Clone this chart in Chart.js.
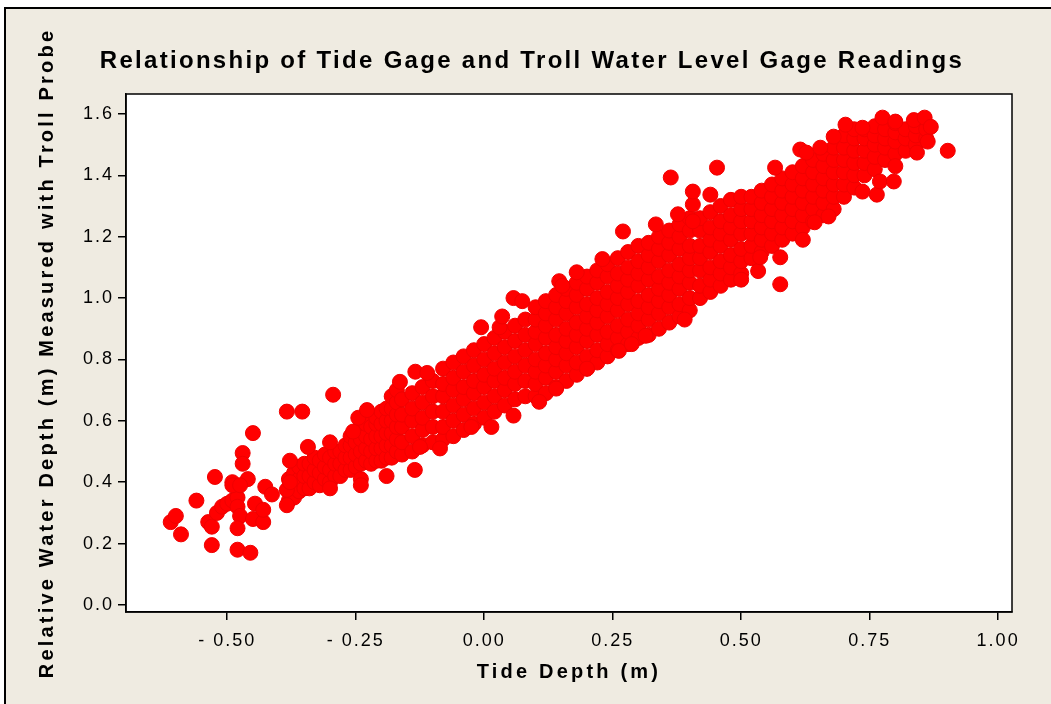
<!DOCTYPE html>
<html>
<head>
<meta charset="utf-8">
<script src="https://cdn.jsdelivr.net/npm/chart.js@4.4.1/dist/chart.umd.min.js"></script>
<style>
  html, body { margin: 0; padding: 0; background: #ffffff; }
  #wrap { width: 1051px; height: 704px; }
</style>
</head>
<body>
<div id="wrap"><canvas id="tideChart" width="1051" height="704"></canvas></div>
<script>
const CHART_TITLE = 'Relationship of Tide Gage and Troll Water Level Gage Readings';
const X_TITLE = 'Tide Depth (m)';
const Y_TITLE = 'Relative Water Depth (m) Measured with Troll Probe';

const xTickValues = [-0.5, -0.25, 0, 0.25, 0.5, 0.75, 1.0];
const xTickLabels = ['- 0.50', '- 0.25', '0.00', '0.25', '0.50', '0.75', '1.00'];
const yTickValues = [0, 0.2, 0.4, 0.6, 0.8, 1.0, 1.2, 1.4, 1.6];
const yTickLabels = ['0.0', '0.2', '0.4', '0.6', '0.8', '1.0', '1.2', '1.4', '1.6'];

// dense part of the cloud, read column by column: [tide depth, [troll depths]]
const bandColumns = [
    [-0.16, [0.49, 0.53, 0.58, 0.62, 0.67]],
    [-0.14, [0.50, 0.55, 0.60, 0.64, 0.69]],
    [-0.12, [0.52, 0.57, 0.61, 0.66, 0.71]],
    [-0.10, [0.53, 0.58, 0.63, 0.68, 0.73]],
    [-0.08, [0.54, 0.58, 0.63, 0.68, 0.72, 0.77]],
    [-0.06, [0.55, 0.60, 0.65, 0.70, 0.74, 0.79]],
    [-0.04, [0.57, 0.62, 0.67, 0.71, 0.76, 0.81]],
    [-0.02, [0.59, 0.64, 0.69, 0.73, 0.78, 0.83]],
    [0.00, [0.61, 0.66, 0.71, 0.75, 0.80, 0.85]],
    [0.02, [0.63, 0.68, 0.73, 0.77, 0.82, 0.87]],
    [0.04, [0.65, 0.70, 0.74, 0.79, 0.84, 0.89]],
    [0.06, [0.67, 0.72, 0.76, 0.81, 0.86, 0.91]],
    [0.08, [0.68, 0.73, 0.78, 0.83, 0.88, 0.93]],
    [0.10, [0.68, 0.72, 0.76, 0.80, 0.85, 0.89, 0.93, 0.97]],
    [0.12, [0.69, 0.74, 0.78, 0.82, 0.87, 0.91, 0.95, 0.99]],
    [0.14, [0.71, 0.76, 0.80, 0.84, 0.88, 0.93, 0.97, 1.01]],
    [0.16, [0.73, 0.78, 0.82, 0.86, 0.90, 0.95, 0.99, 1.03]],
    [0.18, [0.75, 0.79, 0.84, 0.88, 0.92, 0.97, 1.01, 1.05]],
    [0.20, [0.77, 0.81, 0.86, 0.90, 0.94, 0.98, 1.03, 1.07]],
    [0.22, [0.79, 0.83, 0.88, 0.92, 0.96, 1.00, 1.05, 1.09]],
    [0.24, [0.81, 0.85, 0.89, 0.94, 0.98, 1.02, 1.07, 1.11]],
    [0.26, [0.83, 0.87, 0.91, 0.96, 1.00, 1.04, 1.08, 1.13]],
    [0.28, [0.85, 0.89, 0.93, 0.98, 1.02, 1.06, 1.10, 1.15]],
    [0.30, [0.87, 0.91, 0.95, 0.99, 1.04, 1.08, 1.12, 1.17]],
    [0.32, [0.88, 0.93, 0.97, 1.01, 1.06, 1.10, 1.14, 1.18]],
    [0.34, [0.90, 0.95, 0.99, 1.03, 1.07, 1.12, 1.16, 1.20]],
    [0.36, [0.92, 0.97, 1.01, 1.05, 1.09, 1.14, 1.18, 1.22]],
    [0.38, [0.94, 0.98, 1.03, 1.07, 1.11, 1.16, 1.20, 1.24]],
    [0.40, [0.96, 1.00, 1.05, 1.09, 1.13, 1.17, 1.22, 1.26]],
    [0.42, [1.00, 1.04, 1.09, 1.13, 1.17, 1.22, 1.26]],
    [0.44, [1.02, 1.06, 1.10, 1.15, 1.19, 1.23, 1.28]],
    [0.46, [1.04, 1.08, 1.12, 1.17, 1.21, 1.25, 1.30]],
    [0.48, [1.06, 1.10, 1.14, 1.19, 1.23, 1.27, 1.32]],
    [0.50, [1.08, 1.12, 1.16, 1.21, 1.25, 1.29, 1.33]],
    [0.52, [1.13, 1.17, 1.21, 1.25, 1.29, 1.33]],
    [0.54, [1.15, 1.19, 1.23, 1.27, 1.31, 1.35]],
    [0.56, [1.17, 1.21, 1.25, 1.29, 1.33, 1.37]],
    [0.58, [1.19, 1.23, 1.27, 1.31, 1.35, 1.39]],
    [0.60, [1.21, 1.25, 1.29, 1.33, 1.37, 1.41]],
    [0.62, [1.23, 1.27, 1.31, 1.35, 1.39, 1.43]],
    [0.64, [1.25, 1.29, 1.33, 1.37, 1.41, 1.45]],
    [0.66, [1.27, 1.31, 1.35, 1.39, 1.43, 1.47]],
    [0.68, [1.29, 1.33, 1.37, 1.41, 1.45, 1.49]],
    [0.70, [1.33, 1.37, 1.41, 1.45, 1.49, 1.53]],
    [0.72, [1.36, 1.40, 1.44, 1.48, 1.52, 1.55]],
    [0.74, [1.40, 1.44, 1.48, 1.52, 1.55]],
    [0.76, [1.42, 1.46, 1.50, 1.53, 1.56]],
    [0.78, [1.45, 1.49, 1.52, 1.55]],
    [0.80, [1.47, 1.51, 1.54, 1.57]],
    [0.82, [1.48, 1.52, 1.55]],
    [0.84, [1.50, 1.53, 1.56]],
    [0.86, [1.52, 1.55]]
];

// thinner tail of the cloud below zero tide depth
const tailColumns = [
    [-0.38, [0.34, 0.37, 0.41]],
    [-0.37, [0.35, 0.39, 0.43]],
    [-0.36, [0.37, 0.41, 0.45]],
    [-0.35, [0.38, 0.42, 0.46]],
    [-0.34, [0.38, 0.42, 0.46]],
    [-0.33, [0.40, 0.44, 0.48]],
    [-0.32, [0.39, 0.43, 0.47]],
    [-0.31, [0.41, 0.45, 0.49]],
    [-0.30, [0.40, 0.44, 0.48]],
    [-0.29, [0.42, 0.46, 0.50]],
    [-0.28, [0.42, 0.46, 0.50]],
    [-0.27, [0.44, 0.48, 0.52]],
    [-0.26, [0.44, 0.48, 0.52, 0.55]],
    [-0.25, [0.45, 0.49, 0.53]],
    [-0.24, [0.46, 0.50, 0.54, 0.58]],
    [-0.23, [0.47, 0.51, 0.55, 0.59]],
    [-0.22, [0.46, 0.50, 0.54, 0.58]],
    [-0.21, [0.47, 0.51, 0.55, 0.59, 0.61]],
    [-0.20, [0.47, 0.51, 0.55, 0.59, 0.63]],
    [-0.19, [0.48, 0.52, 0.56, 0.60, 0.64]],
    [-0.18, [0.48, 0.52, 0.56, 0.60, 0.64, 0.68]],
    [-0.17, [0.50, 0.54, 0.58, 0.62, 0.66, 0.70]]
];

// the low group at the far left
const lowGroupPoints = [
    [-0.61, 0.27], [-0.60, 0.29], [-0.59, 0.23], [-0.56, 0.34], [-0.53, 0.195], [-0.524, 0.417],
    [-0.537, 0.27], [-0.53, 0.255], [-0.52, 0.30], [-0.51, 0.32], [-0.50, 0.33], [-0.49, 0.34],
    [-0.48, 0.35], [-0.49, 0.40], [-0.49, 0.39], [-0.47, 0.495], [-0.47, 0.46], [-0.46, 0.41],
    [-0.45, 0.56], [-0.475, 0.39], [-0.48, 0.32], [-0.475, 0.29], [-0.48, 0.25], [-0.48, 0.18],
    [-0.455, 0.17], [-0.45, 0.28], [-0.43, 0.27], [-0.446, 0.33], [-0.43, 0.31], [-0.426, 0.385],
    [-0.413, 0.36], [-0.378, 0.47], [-0.384, 0.325], [-0.384, 0.375], [-0.378, 0.40],
    [-0.343, 0.515], [-0.30, 0.53], [-0.24, 0.41], [-0.19, 0.42]
];

// points standing off the edges of the band
const strayPoints = [
    [-0.30, 0.38], [-0.24, 0.39], [-0.135, 0.44], [-0.086, 0.51], [-0.125, 0.515], [-0.025, 0.58],
    [0.014, 0.58], [0.057, 0.617], [0.107, 0.662], [0.14, 0.705], [0.20, 0.77], [0.262, 0.828],
    [0.287, 0.85], [0.314, 0.877], [0.39, 0.93], [0.50, 1.06], [0.533, 1.088], [0.537, 1.133],
    [0.576, 1.133], [0.576, 1.045], [0.62, 1.19], [0.643, 1.247], [0.67, 1.266], [0.736, 1.347],
    [0.764, 1.337], [0.77, 1.38], [0.797, 1.38], [0.80, 1.43], [0.842, 1.474], [0.863, 1.51],
    [0.902, 1.48],
    [-0.384, 0.63], [-0.354, 0.63], [-0.294, 0.685], [-0.255, 0.565], [-0.245, 0.61], [-0.228, 0.635],
    [-0.164, 0.727], [-0.134, 0.76], [-0.111, 0.756], [-0.006, 0.905], [0.03, 0.905], [0.035, 0.94],
    [0.057, 1.0], [0.074, 0.99], [0.146, 1.055], [0.152, 1.04], [0.18, 1.084], [0.23, 1.127],
    [0.27, 1.217], [0.334, 1.24], [0.363, 1.393], [0.377, 1.273], [0.406, 1.25], [0.406, 1.305],
    [0.406, 1.347], [0.44, 1.337], [0.453, 1.425], [0.566, 1.425], [0.615, 1.484], [0.627, 1.474],
    [0.654, 1.49], [0.68, 1.526], [0.703, 1.565], [0.736, 1.555], [0.775, 1.588], [0.80, 1.575],
    [0.836, 1.58], [0.857, 1.588], [0.869, 1.558]
];

const BG_COLOR = '#EFEBE1';
const DOT_COLOR = '#FF0000';
const FONT_FAMILY = "'Liberation Sans', Arial, sans-serif";

const columnsToPoints = function (columns) {
    const points = [];
    columns.forEach(function (col) {
        col[1].forEach(function (y) {
            points.push({ x: col[0], y: y });
        });
    });
    return points;
}

const pairsToPoints = function (pairs) {
    return pairs.map(function (p) {
        return { x: p[0], y: p[1] };
    });
}

const readings = []
    .concat(columnsToPoints(tailColumns))
    .concat(columnsToPoints(bandColumns))
    .concat(pairsToPoints(lowGroupPoints))
    .concat(pairsToPoints(strayPoints));

// Minitab-like frame, spaced-out labels and the titles
const framePlugin = {
    id: 'frame',
    beforeDraw: function (chart) {
        const ctx = chart.ctx;
        const area = chart.chartArea;
        ctx.save();
        ctx.fillStyle = '#ffffff';
        ctx.fillRect(0, 0, chart.width, chart.height);
        ctx.fillStyle = BG_COLOR;
        ctx.fillRect(5, 8, chart.width, chart.height);
        ctx.strokeStyle = '#000';
        ctx.lineWidth = 2;
        ctx.beginPath();
        ctx.moveTo(5, chart.height);
        ctx.lineTo(5, 8);
        ctx.lineTo(chart.width, 8);
        ctx.stroke();
        ctx.fillStyle = '#ffffff';
        ctx.fillRect(area.left, area.top, area.right - area.left, area.bottom - area.top);
        ctx.restore();
        ctx.letterSpacing = '2px';
    },
    afterDraw: function (chart) {
        const ctx = chart.ctx;
        const area = chart.chartArea;
        ctx.save();
        ctx.strokeStyle = '#000';
        ctx.lineWidth = 1.5;
        ctx.strokeRect(area.left, area.top, area.right - area.left, area.bottom - area.top);

        ctx.fillStyle = '#000';
        ctx.textAlign = 'center';
        ctx.textBaseline = 'middle';
        ctx.font = 'bold 24px ' + FONT_FAMILY;
        ctx.letterSpacing = '2.3px';
        ctx.fillText(CHART_TITLE, 532, 61);

        ctx.font = 'bold 20px ' + FONT_FAMILY;
        ctx.letterSpacing = '3.2px';
        ctx.fillText(X_TITLE, (area.left + area.right) / 2, 672);

        ctx.translate(47, (area.top + area.bottom) / 2);
        ctx.rotate(-Math.PI / 2);
        ctx.fillText(Y_TITLE, 0, 0);
        ctx.restore();
    }
};

new Chart(document.getElementById('tideChart'), {
    type: 'scatter',
    data: {
        datasets: [{
            label: 'Readings',
            data: readings,
            backgroundColor: DOT_COLOR,
            borderColor: '#F00000',
            borderWidth: 1,
            pointRadius: 7.5,
            pointHoverRadius: 7.5
        }]
    },
    options: {
        responsive: false,
        animation: false,
        devicePixelRatio: 1,
        layout: { padding: { top: 94, right: 39, left: 0, bottom: 0 } },
        plugins: {
            legend: { display: false },
            tooltip: { enabled: false },
            title: { display: false }
        },
        scales: {
            x: {
                type: 'linear',
                min: -0.697,
                max: 1.027,
                afterFit: function (scale) { scale.height = 92; },
                afterBuildTicks: function (scale) {
                    scale.ticks = xTickValues.map(function (v) { return { value: v }; });
                },
                grid: { drawOnChartArea: false, drawTicks: true, tickLength: 8, color: '#000', lineWidth: 1.5 },
                border: { display: true, color: '#000', width: 1.5 },
                ticks: {
                    color: '#000',
                    padding: 10,
                    maxRotation: 0,
                    font: { family: FONT_FAMILY, size: 18 },
                    callback: function (value, index) { return xTickLabels[index]; }
                }
            },
            y: {
                type: 'linear',
                min: -0.023,
                max: 1.665,
                afterFit: function (scale) { scale.width = 126; },
                afterBuildTicks: function (scale) {
                    scale.ticks = yTickValues.map(function (v) { return { value: v }; });
                },
                grid: { drawOnChartArea: false, drawTicks: true, tickLength: 8, color: '#000', lineWidth: 1.5 },
                border: { display: true, color: '#000', width: 1.5 },
                ticks: {
                    color: '#000',
                    padding: 4,
                    font: { family: FONT_FAMILY, size: 18 },
                    callback: function (value, index) { return yTickLabels[index]; }
                }
            }
        }
    },
    plugins: [framePlugin]
});
</script>
</body>
</html>
